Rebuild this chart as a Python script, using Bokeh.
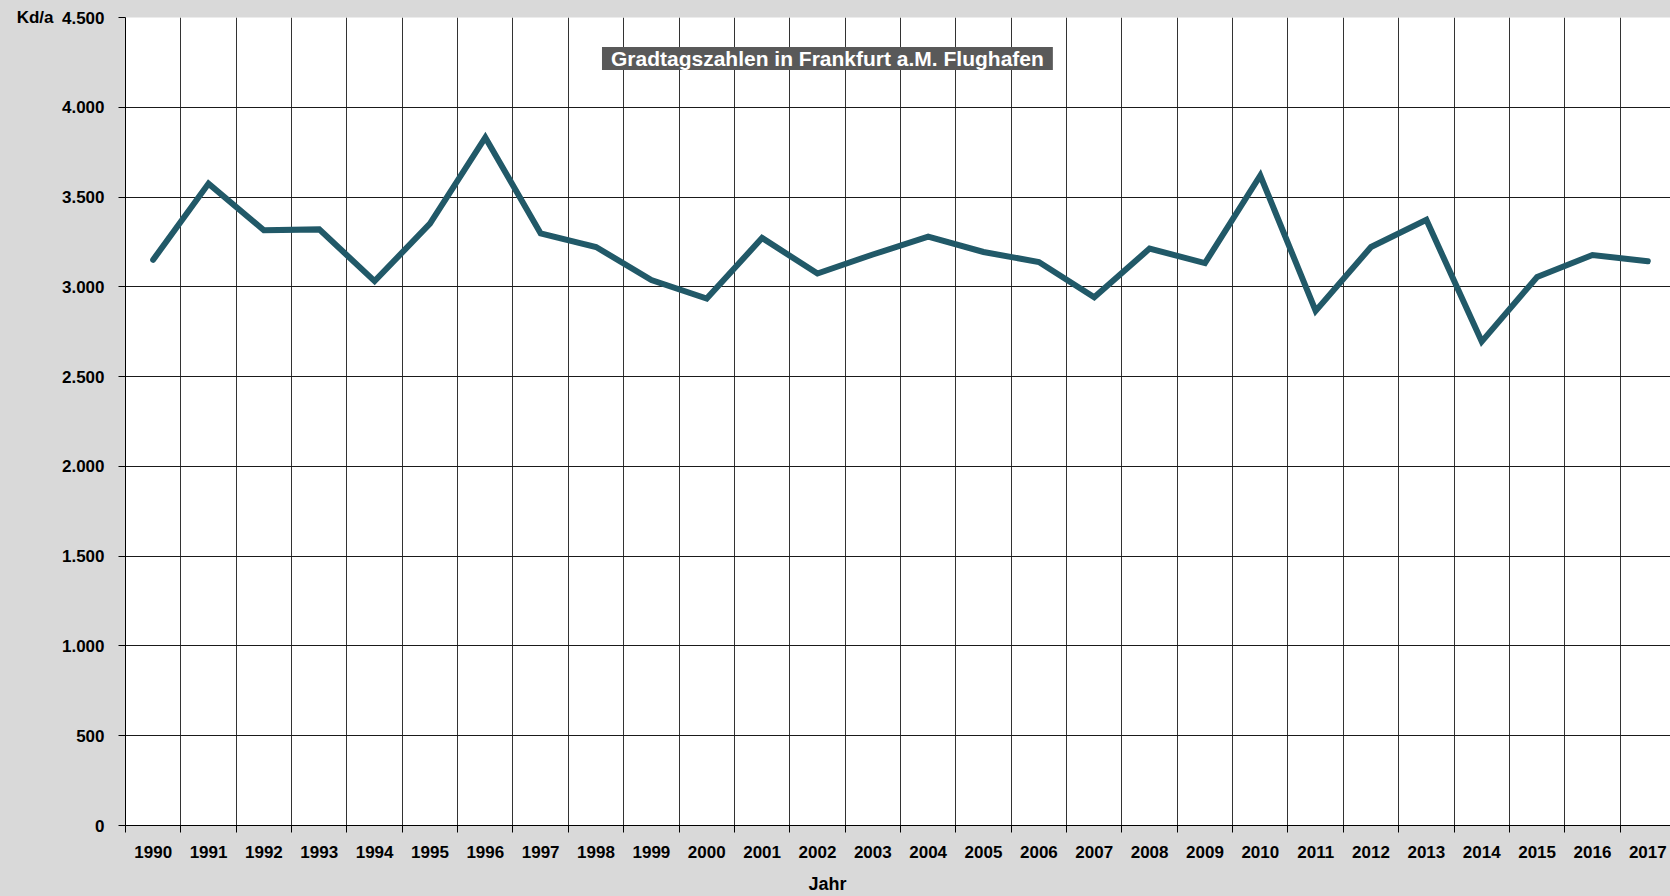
from bokeh.plotting import figure
from bokeh.models import FixedTicker, Label, Range1d, LinearAxis
from bokeh.embed import file_html
from bokeh.resources import INLINE

years = list(range(1990, 2018))
kd_values = [3151, 3575, 3315, 3320, 3032, 3352, 3832, 3297, 3222, 3038,
             2935, 3272, 3074, 3180, 3280, 3194, 3138, 2942, 3213, 3132,
             3620, 2866, 3222, 3373, 2695, 3055, 3177, 3143]
y_ticks = [0, 500, 1000, 1500, 2000, 2500, 3000, 3500, 4000, 4500]
y_tick_labels = ["0", "500", "1.000", "1.500", "2.000", "2.500", "3.000", "3.500", "4.000", "4.500"]
title_text = "Gradtagszahlen in Frankfurt a.M. Flughafen"
x_title = "Jahr"
y_title = "Kd/a"

FONT = "Liberation Sans"
BG = "#d9d9d9"
TITLE_X = 2002.18
TITLE_Y = 4272

boundaries = [y + 0.5 for y in years[:-1]] + [years[0] - 0.5]

p = figure(width=1670, height=896, output_backend="svg", toolbar_location=None,
           x_range=Range1d(1989.5, 2017.41), y_range=Range1d(0, 4500),
           min_border_left=125, min_border_right=0, min_border_top=17, min_border_bottom=71)
p.background_fill_color = "white"
p.border_fill_color = BG
p.outline_line_color = None

p.line(years, kd_values, line_color="#215968", line_width=6, line_join="miter", line_cap="round")


def style_labels(ax, size="17px"):
    ax.major_label_text_font = FONT
    ax.major_label_text_font_style = "bold"
    ax.major_label_text_font_size = size
    ax.major_label_text_color = "black"


# x axis
xa = p.xaxis[0]
xa.ticker = FixedTicker(ticks=years, minor_ticks=boundaries)
xa.major_tick_out = 0
xa.major_tick_in = 0
xa.minor_tick_out = 7
xa.minor_tick_in = 0
xa.minor_tick_line_color = "black"
xa.axis_line_color = "black"
style_labels(xa)
xa.major_label_standoff = 13

# x title as an extra axis carrying a single label
xt = LinearAxis(ticker=FixedTicker(ticks=[TITLE_X]), major_label_overrides={TITLE_X: x_title},
                axis_line_color=None, major_tick_line_color=None, minor_tick_line_color=None,
                major_tick_out=0, major_tick_in=0, major_label_standoff=13)
style_labels(xt, "18px")
p.add_layout(xt, "below")

ya = p.yaxis[0]
ya.ticker = FixedTicker(ticks=y_ticks)
ya.major_label_overrides = {t: l for t, l in zip(y_ticks, y_tick_labels)}
ya.major_tick_out = 7
ya.major_tick_in = 0
ya.minor_tick_out = 0
ya.minor_tick_in = 0
ya.major_tick_line_color = "black"
ya.axis_line_color = "black"
style_labels(ya)
ya.major_label_standoff = 14

# y title as an extra axis with one label at the top
yt = LinearAxis(ticker=FixedTicker(ticks=[4500]), major_label_overrides={4500: y_title},
                axis_line_color=None, major_tick_line_color=None, minor_tick_line_color=None,
                major_tick_out=0, major_tick_in=0, major_label_standoff=5)
style_labels(yt)
p.add_layout(yt, "left")

p.xgrid[0].ticker = FixedTicker(ticks=boundaries)
p.xgrid[0].grid_line_color = "#333333"
p.xgrid[0].grid_line_width = 1
p.ygrid[0].ticker = FixedTicker(ticks=y_ticks)
p.ygrid[0].grid_line_color = "#1a1a1a"
p.ygrid[0].grid_line_width = 1

p.add_layout(Label(x=TITLE_X, y=TITLE_Y, text=title_text, text_align="center", text_baseline="middle",
                   text_font=FONT, text_font_style="bold", text_font_size="21px",
                   text_color="white", background_fill_color="#595959", padding=(9, 0)))

html = file_html(p, INLINE)
html = html.replace("<head>", "<head><style>html,body{background:#d9d9d9;overflow:hidden;}</style>", 1)
open("out.html", "w").write(html)
